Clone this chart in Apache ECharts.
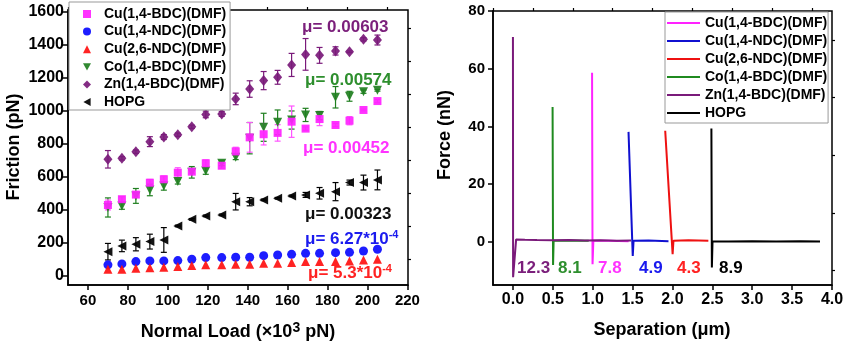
<!DOCTYPE html>
<html>
<head>
<meta charset="utf-8">
<script src="https://cdn.jsdelivr.net/npm/echarts@6/dist/echarts.min.js"></script>
<style>
  html, body { margin: 0; padding: 0; background: #fff; }
  #chart { width: 847px; height: 347px; }
</style>
</head>
<body>
<div id="chart"></div>
<script>
const FONT = 'Arial, "Liberation Sans", Helvetica, sans-serif';

// ---- Friction vs normal load (x 10^3 pN) ----
const materials = ['Cu(1,4-BDC)(DMF)', 'Cu(1,4-NDC)(DMF)', 'Cu(2,6-NDC)(DMF)', 'Co(1,4-BDC)(DMF)', 'Zn(1,4-BDC)(DMF)', 'HOPG'];
const loads = [70, 77, 84, 91, 98, 105, 112, 119, 127, 134, 141, 148, 155, 162, 169, 176, 184, 191, 198, 205];

const fricCuBDC = [430, 465, 493, 565, 586, 626, 632, 683, 668, 755, 840, 859, 867, 935, 893, 951, 915, 941, 1006, 1060];
const errCuBDC  = [30, 15, 15, 20, 20, 30, 10, 20, 15, 25, 90, 65, 50, 95, 10, 40, 10, 25, 5, 10];
const fricCuNDC = [67, 73, 87, 91, 91, 93, 101, 111, 111, 113, 113, 123, 127, 131, 137, 137, 141, 143, 151, 162];
const fricCu26  = [40, 40, 46, 50, 52, 57, 63, 67, 67, 71, 71, 77, 77, 81, 87, 87, 87, 91, 97, 101];
const fricCo    = [415, 424, 485, 521, 545, 572, 628, 636, 683, 720, 835, 901, 931, 945, 976, 972, 1083, 1089, 1117, 1125];
const errCo     = [58, 20, 45, 35, 25, 15, 35, 20, 15, 15, 95, 85, 75, 55, 40, 25, 65, 30, 10, 5];
const fricZn    = [707, 713, 753, 814, 842, 856, 904, 979, 982, 1073, 1133, 1184, 1204, 1279, 1343, 1337, 1364, 1359, 1434, 1430];
const errZn     = [53, 10, 10, 30, 15, 10, 10, 20, 15, 35, 50, 55, 42, 70, 96, 48, 25, 5, 10, 30];
const fricHOPG  = [147, 182, 192, 208, 218, 303, 343, 364, 370, 450, 450, 461, 471, 485, 491, 501, 511, 566, 566, 582];
const errHOPG   = [50, 35, 40, 45, 75, 5, 5, 5, 5, 50, 25, 5, 5, 5, 15, 35, 55, 15, 45, 60];

const frictionTicks = [0, 200, 400, 600, 800, 1000, 1200, 1400, 1600];
const frictionMinor = [100, 300, 500, 700, 900, 1100, 1300, 1500];
const loadTicks = [60, 80, 100, 120, 140, 160, 180, 200, 220];
const loadMinor = [50, 70, 90, 110, 130, 150, 170, 190, 210];

const slopeLabels = ['0.00603', '0.00574', '0.00452', '0.00323', '6.27*10', '5.3*10'];

// ---- Force–separation curves (offset by 0.5 um each) ----
const sepZn   = [0.000, 0.002, 0.040, 0.150, 0.300, 0.500, 0.700, 0.900, 1.100, 1.300, 1.480];
const forceZn = [71.0, -12.3, 0.8, 0.7, 0.6, 0.5, 0.6, 0.4, 0.5, 0.3, 0.4];
const sepCo   = [0.497, 0.503, 0.510, 0.700, 0.950];
const forceCo = [46.7, -8.1, 0.3, 0.4, 0.3];
const sepCuBDC   = [0.992, 0.998, 1.008, 1.200, 1.450];
const forceCuBDC = [58.6, -7.8, 0.3, 0.3, 0.2];
const sepCuNDC   = [1.449, 1.502, 1.512, 1.700, 1.950];
const forceCuNDC = [38.1, -4.9, 0.3, 0.4, 0.2];
const sepCu26    = [1.909, 2.002, 2.012, 2.200, 2.450];
const forceCu26  = [38.5, -4.3, 0.3, 0.5, 0.3];
const sepHOPG    = [2.488, 2.494, 2.502, 2.700, 3.000, 3.300, 3.600, 3.850];
const forceHOPG  = [39.3, -8.9, 0.2, 0.1, 0.2, 0.1, 0.2, 0.1];
const adhesion = ['12.3', '8.1', '7.8', '4.9', '4.3', '8.9'];

const forceTicks = [0, 20, 40, 60, 80];
const forceMinor = [-10, 10, 30, 50, 70];
const sepTicks = [0, 0.5, 1, 1.5, 2, 2.5, 3, 3.5, 4];
const sepMinor = [-0.25, 0.25, 0.75, 1.25, 1.75, 2.25, 2.75, 3.25, 3.75];

const C = {
  cuBDC: '#ff22ff', cuNDC: '#0a0aff', cu26: '#ff1010', co: '#1f7f1f', zn: '#7a1a7a', hopg: '#000000'
};
const LC = {
  cuBDC: '#ff22ff', cuNDC: '#1010d0', cu26: '#ee1111', co: '#1f8a1f', zn: '#7a1a7a', hopg: '#000000'
};

// marker shapes (also used for the legend icons)
const DOWN_TRIANGLE = 'path://M0,0L10,0L5,9Z';
const LEFT_TRIANGLE = 'path://M9,0L9,10L0,5Z';

function pair(xs, ys) { return xs.map((x, i) => [x, ys[i]]); }

function axisBase(gridIndex, min, max, labelValues, fmt, margin, fontSize) {
  return {
    gridIndex, type: 'value', min, max,
    axisLine: { show: true, onZero: false, lineStyle: { color: '#000', width: 1.5 } },
    axisTick: { show: true, inside: false, length: 5, lineStyle: { color: '#000', width: 1.5 }, customValues: labelValues },
    axisLabel: { show: true, customValues: labelValues, formatter: fmt, margin, color: '#000',
      showMinLabel: true, showMaxLabel: true, hideOverlap: false,
      fontFamily: FONT, fontWeight: 'bold', fontSize },
    splitLine: { show: false }
  };
}
function minorAxis(gridIndex, min, max, vals) {
  return {
    gridIndex, type: 'value', min, max,
    axisLine: { show: false, onZero: false },
    axisTick: { show: true, inside: false, length: 3, lineStyle: { color: '#000', width: 1.2 }, customValues: vals },
    axisLabel: { show: false },
    splitLine: { show: false }
  };
}

function errorSeries(ys, errs, color) {
  return {
    type: 'custom', xAxisIndex: 0, yAxisIndex: 0, silent: true, z: 2,
    data: loads.map((x, i) => [x, ys[i], errs[i]]),
    encode: { x: 0, y: 1 },
    renderItem(params, api) {
      const x = api.value(0), y = api.value(1), e = api.value(2);
      const t = api.coord([x, y + e]), b = api.coord([x, y - e]);
      const w = 3;
      const st = { stroke: color, lineWidth: 1.2 };
      return { type: 'group', children: [
        { type: 'line', shape: { x1: t[0], y1: t[1], x2: b[0], y2: b[1] }, style: st },
        { type: 'line', shape: { x1: t[0] - w, y1: t[1], x2: t[0] + w, y2: t[1] }, style: st },
        { type: 'line', shape: { x1: b[0] - w, y1: b[1], x2: b[0] + w, y2: b[1] }, style: st }
      ] };
    }
  };
}
function scatter(name, ys, color, symbol, size) {
  return {
    type: 'scatter', name, xAxisIndex: 0, yAxisIndex: 0, z: 3,
    data: pair(loads, ys), symbol, symbolSize: size,
    itemStyle: { color, opacity: 0.92 }
  };
}
function curve(name, xs, ys, color) {
  return {
    type: 'line', name: 'F:' + name, xAxisIndex: 2, yAxisIndex: 2,
    data: pair(xs, ys), symbol: 'none', showSymbol: false, animation: false,
    lineStyle: { color, width: 2 }, itemStyle: { color }
  };
}

function text(x, y, str, color, extra) {
  return Object.assign({
    type: 'text', x, y, silent: true,
    style: { text: str, fill: color, font: 'bold 17px ' + FONT, textAlign: 'left', textVerticalAlign: 'middle' }
  }, extra || {});
}
function supText(x, y, base, sup, color) {
  return {
    type: 'text', x, y, silent: true,
    style: {
      text: '{a|' + base + '}{s|' + sup + '}', textAlign: 'left', textVerticalAlign: 'middle',
      rich: {
        a: { fill: color, font: 'bold 17px ' + FONT, lineHeight: 20 },
        s: { fill: color, font: 'bold 11px ' + FONT, verticalAlign: 'top', lineHeight: 20 }
      }
    }
  };
}

const chart = echarts.init(document.getElementById('chart'), null, { renderer: 'canvas' });

const fmtInt = v => String(v);
const fmt1 = v => v.toFixed(1);

const legendText = { fontFamily: FONT, fontWeight: 'bold', fontSize: 14, color: '#000', lineHeight: 14 };
const legendIcons = ['rect', 'circle', 'triangle', DOWN_TRIANGLE, 'diamond', LEFT_TRIANGLE];

chart.setOption({
  animation: false,
  backgroundColor: '#fff',
  grid: [
    { left: 68, top: 10, width: 340, height: 275, show: true, borderColor: '#000', borderWidth: 1.5, backgroundColor: 'transparent' },
    { left: 493, top: 11, width: 339, height: 274, show: true, borderColor: '#000', borderWidth: 1.5, backgroundColor: 'transparent' }
  ],
  xAxis: [
    axisBase(0, 50, 220.3, loadTicks, fmtInt, 8, 15),
    minorAxis(0, 50, 220.3, loadMinor),
    axisBase(1, -0.25, 4.0, sepTicks, fmt1, 7, 16),
    minorAxis(1, -0.25, 4.0, sepMinor)
  ],
  yAxis: [
    axisBase(0, -55, 1612, frictionTicks, fmtInt, 4, 16),
    minorAxis(0, -55, 1612, frictionMinor),
    axisBase(1, -15, 80, forceTicks, fmtInt, 8, 15),
    minorAxis(1, -15, 80, forceMinor)
  ],
  legend: [
    {
      data: materials.map((n, i) => ({ name: n, icon: legendIcons[i] })),
      orient: 'vertical', left: 69, top: 2, selectedMode: false,
      backgroundColor: '#fff', borderColor: '#999', borderWidth: 1, borderRadius: 0,
      padding: [5, 4, 1, 14], itemGap: 3.6, itemWidth: 8, itemHeight: 8,
      textStyle: Object.assign({ padding: [0, 0, 0, 8] }, legendText)
    },
    {
      data: materials.map(n => ({ name: 'F:' + n, icon: 'rect' })), orient: 'vertical', left: 665, top: 12, selectedMode: false,
      backgroundColor: '#fff', borderColor: '#999', borderWidth: 1, borderRadius: 0,
      padding: [4, 1, 3, 2], itemGap: 4, itemWidth: 33, itemHeight: 2,
      formatter: n => n.slice(2),
      textStyle: legendText
    }
  ],
  series: [
    errorSeries(fricZn, errZn, C.zn),
    errorSeries(fricCo, errCo, C.co),
    errorSeries(fricCuBDC, errCuBDC, '#ff55ff'),
    errorSeries(fricHOPG, errHOPG, C.hopg),
    scatter(materials[4], fricZn, C.zn, 'diamond', [9, 11]),
    scatter(materials[3], fricCo, C.co, DOWN_TRIANGLE, 9),
    scatter(materials[0], fricCuBDC, C.cuBDC, 'rect', 8),
    scatter(materials[5], fricHOPG, C.hopg, LEFT_TRIANGLE, 9),
    scatter(materials[1], fricCuNDC, C.cuNDC, 'circle', 9),
    scatter(materials[2], fricCu26, C.cu26, 'triangle', 9),

    curve(materials[3], sepCo, forceCo, LC.co),
    curve(materials[0], sepCuBDC, forceCuBDC, LC.cuBDC),
    curve(materials[1], sepCuNDC, forceCuNDC, LC.cuNDC),
    curve(materials[2], sepCu26, forceCu26, LC.cu26),
    curve(materials[4], sepZn, forceZn, LC.zn),
    curve(materials[5], sepHOPG, forceHOPG, LC.hopg)
  ],
  graphic: [
    // axis titles
    text(14, 147, 'Friction (pN)', '#000', { rotation: Math.PI / 2, style: { text: 'Friction (pN)', fill: '#000', font: 'bold 18px ' + FONT, textAlign: 'center', textVerticalAlign: 'middle' } }),
    {
      type: 'text', x: 238, y: 332, silent: true,
      style: {
        text: '{a|Normal Load (\u00d710}{s|3}{a| pN)}', textAlign: 'center', textVerticalAlign: 'middle',
        rich: {
          a: { fill: '#000', font: 'bold 18px ' + FONT, lineHeight: 22 },
          s: { fill: '#000', font: 'bold 14px ' + FONT, verticalAlign: 'top', lineHeight: 22 }
        }
      }
    },
    text(445, 135, 'Force (nN)', '#000', { rotation: Math.PI / 2, style: { text: 'Force (nN)', fill: '#000', font: 'bold 18px ' + FONT, textAlign: 'center', textVerticalAlign: 'middle' } }),
    text(662, 330, 'Separation (\u03bcm)', '#000', { style: { text: 'Separation (\u03bcm)', fill: '#000', font: 'bold 18px ' + FONT, textAlign: 'center', textVerticalAlign: 'middle' } }),

    // friction coefficients
    text(302, 27, '\u03bc= ' + slopeLabels[0], '#7b1f7b'),
    text(305, 80, '\u03bc= ' + slopeLabels[1], '#2e8f2e'),
    text(303, 148, '\u03bc= ' + slopeLabels[2], '#ff33ff'),
    text(305, 214, '\u03bc= ' + slopeLabels[3], '#111'),
    supText(305, 239, '\u03bc= ' + slopeLabels[4], '-4', '#1a1aee'),
    supText(308, 273, '\u03bc= ' + slopeLabels[5], '-4', '#ff2222'),

    // adhesion forces (nN)
    text(517, 268, adhesion[0], '#7b1f7b'),
    text(558, 268, adhesion[1], '#2e8f2e'),
    text(598, 268, adhesion[2], '#ff33ff'),
    text(639, 268, adhesion[3], '#1a1aee'),
    text(677, 268, adhesion[4], '#ff2222'),
    text(719, 268, adhesion[5], '#000')
  ]
});
</script>
</body>
</html>
